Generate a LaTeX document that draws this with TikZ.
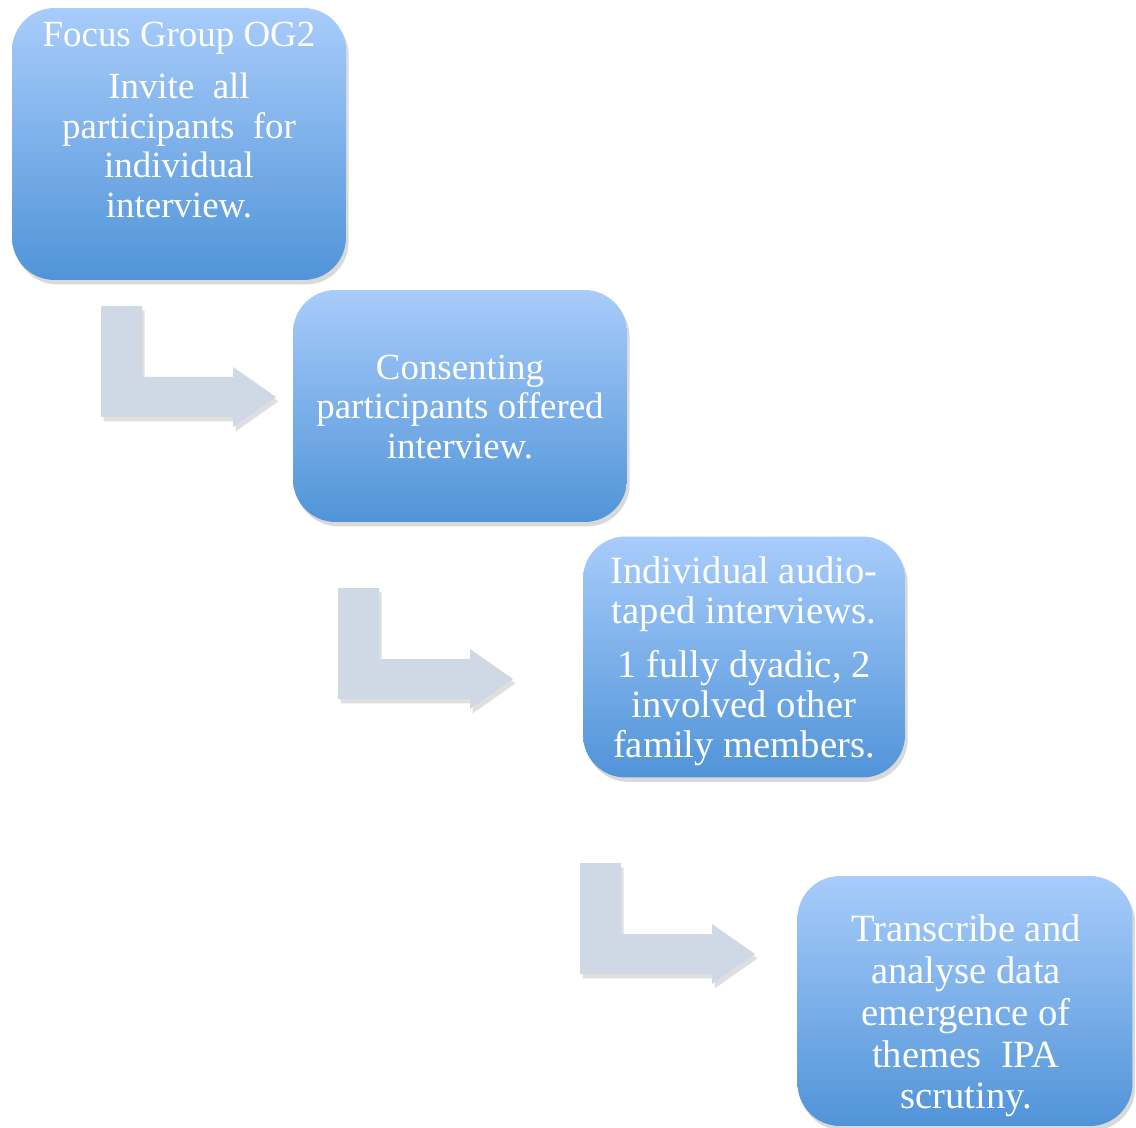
\documentclass[tikz,border=0pt]{standalone}
\usepackage{fontspec}
\setmainfont{Liberation Serif}
\usetikzlibrary{shadows}
\definecolor{boxtop}{RGB}{168,204,251}
\definecolor{boxbottom}{RGB}{80,148,216}
\definecolor{arrowgrey}{RGB}{207,216,229}
\begin{document}
\begin{tikzpicture}
        [x=0.02cm, y=-0.02cm,
        stage/.style={rectangle, rounded corners=0.85cm, draw=none,
            top color=boxtop, bottom color=boxbottom, inner sep=0pt,
            drop shadow={shadow xshift=1.5pt, shadow yshift=-2.5pt, opacity=0.3}},
        stagetext/.style={text=white, align=center, inner sep=0pt,
            font=\fontsize{21}{22.7}\selectfont},
        turn/.style={fill=arrowgrey,
            drop shadow={shadow xshift=1.5pt, shadow yshift=-2.5pt, opacity=0.25}}]
        \useasboundingbox (0,0) rectangle (1136,1128);
        \node[stage, minimum width=6.68cm, minimum height=5.44cm] (focus) at (179,144) {};
        \node[stage, minimum width=6.68cm, minimum height=4.64cm] (consent) at (460,406) {};
        \node[stage, minimum width=6.44cm, minimum height=4.82cm] (taped) at (744,657) {};
        \node[stage, minimum width=6.70cm, minimum height=5.00cm] (analyse) at (965,1001) {};
        \node[stagetext] (focustext) at (179,120)
            {Focus Group OG2\\[7pt]Invite\ \ all\\participants\ \ for\\individual\\interview.};
        \node[stagetext] (consenttext) at (460,407)
            {Consenting\\participants offered\\interview.};
        \node[stagetext, font=\fontsize{22}{22.7}\selectfont] (tapedtext) at (744,661)
            {Individual audio-\\taped interviews.\\[8pt]1 fully dyadic, 2\\involved other\\family members.};
        \node[stagetext, font=\fontsize{22}{23.8}\selectfont] (analysetext) at (966,1016)
            {Transcribe and\\analyse data\\emergence of\\themes\ \ IPA\\scrutiny.};
        % bent arrows between the stages
        \foreach \ax/\ay in {101/306, 338/588, 580/863}
            \fill[turn] (\ax,\ay) -- ++(41,0) -- ++(0,71) -- ++(91,0) -- ++(0,-10)
                -- ++(43,30) -- ++(-43,30) -- ++(0,-10) -- ++(-132,0) -- cycle;
\end{tikzpicture}
\end{document}
